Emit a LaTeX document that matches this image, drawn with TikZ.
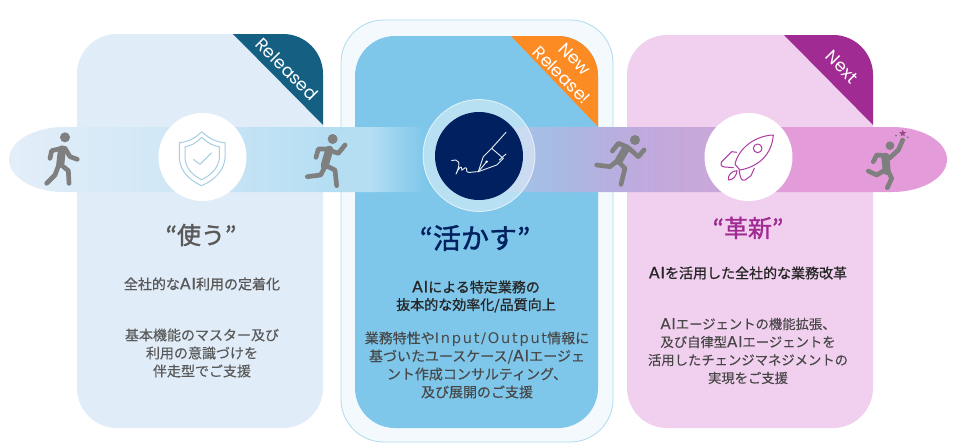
\documentclass[tikz,border=0pt]{standalone}
\usepackage{fontspec}
\setmainfont{Noto Sans CJK JP}
\newfontfamily\ribbonfont{Poppins}
\newfontfamily\jpbody[FakeBold=0.15]{Noto Sans CJK JP}
\newfontfamily\jpmed[FakeBold=0.9]{Noto Sans CJK JP}
\newfontfamily\jphead[FakeBold=1.4]{Noto Sans CJK JP}
\newfontfamily\latw[LetterSpace=12,Scale=1.04]{DejaVu Sans}
\newfontfamily\lata[LetterSpace=5,Scale=1.12,FakeBold=0.15]{DejaVu Sans}
\newfontfamily\latm[LetterSpace=5,Scale=1.12,FakeBold=0.7]{DejaVu Sans}
\newcommand{\wideL}[1]{{\latw #1}}
\newcommand{\wideA}[1]{{\lata #1}}
\newcommand{\wideM}[1]{{\latm #1}}
\usetikzlibrary{shapes.geometric}
\definecolor{panelA}{HTML}{E0ECF8}
\definecolor{panelBo}{HTML}{F3F9FD}
\definecolor{panelBe}{HTML}{AEDBF0}
\definecolor{panelB}{HTML}{7FC7EA}
\definecolor{panelC}{HTML}{F1D0EF}
\definecolor{ribA}{HTML}{156082}
\definecolor{ribB}{HTML}{FD8B23}
\definecolor{ribC}{HTML}{A02B93}
\definecolor{grayfig}{HTML}{7F7F7F}
\definecolor{txtA}{HTML}{595959}
\definecolor{txtB}{HTML}{002060}
\definecolor{txtD}{HTML}{262626}
\definecolor{shieldc}{HTML}{A6CEE2}
\definecolor{rocketc}{HTML}{AC3BA2}
\definecolor{navy}{HTML}{002060}
\definecolor{gA}{HTML}{E3EEF9}
\definecolor{gB}{HTML}{D0E7F6}
\definecolor{gC}{HTML}{B5DEF3}
\definecolor{gD}{HTML}{7FC7EA}
\definecolor{gE}{HTML}{A5BFE6}
\definecolor{gF}{HTML}{A9B9E2}
\definecolor{gG}{HTML}{BFAADE}
\definecolor{gH}{HTML}{CBA7D9}
\definecolor{gI}{HTML}{E39CD9}
\pgfdeclarehorizontalshading{bandshade}{100bp}{
 color(0bp)=(gA); color(25bp)=(gA); color(33.6bp)=(gB); color(42.1bp)=(gC); color(44.2bp)=(gC); color(47.1bp)=(gD);
 color(50bp)=(gD); color(52.8bp)=(gE); color(54.4bp)=(gF); color(58.6bp)=(gG); color(62.9bp)=(gH); color(66.6bp)=(gI); color(75bp)=(gI); color(100bp)=(gI)}
\tikzset{
 limb/.style={draw=grayfig,line width=3.5pt,line cap=round,line join=round},
 torso/.style={draw=grayfig,line width=6pt,line cap=round},
 headdot/.style={fill=grayfig},
 ribtext/.style={text=white,rotate=-45,font=\ribbonfont\fontsize{13}{15}\selectfont,inner sep=0pt},
 title/.style={inner sep=0pt,font=\jphead\fontsize{18}{22}\selectfont},
 sub/.style={inner sep=0pt,align=center,font=\jpmed\fontsize{10.5}{13.2}\selectfont},
 body/.style={inner sep=0pt,align=center,font=\jpbody\fontsize{10.5}{13.5}\selectfont},
 hub/.style={circle,fill=white,minimum size=66pt,inner sep=0pt},
}
\begin{document}
\begin{tikzpicture}[x=.75pt,y=-.75pt]
\useasboundingbox (0,0) rectangle (964,447);
\fill[white] (0,0) rectangle (964,447);
% panels
\fill[panelA,rounded corners=30pt] (77,34) rectangle (323,428);
\filldraw[fill=panelBo,draw=panelBe,line width=.6pt,rounded corners=32pt] (341,20) rectangle (613,442);
\fill[panelB,rounded corners=30pt] (355,36) rectangle (598,428);
\fill[panelC,rounded corners=30pt] (627,35) rectangle (873,428);
% ribbons
\begin{scope}
\clip[rounded corners=30pt] (77,34) rectangle (323,428);
\fill[ribA] (233,34) -- (330,34) -- (330,132) -- cycle;
\end{scope}
\begin{scope}
\clip[rounded corners=30pt] (355,36) rectangle (598,428);
\fill[ribB] (510,35) -- (605,35) -- (605,134) -- cycle;
\end{scope}
\begin{scope}
\clip[rounded corners=30pt] (627,35) rectangle (873,428);
\fill[ribC] (784,35) -- (880,35) -- (880,132) -- cycle;
\end{scope}
\node[ribtext] (relA) at (287,69) {Released};
\node[ribtext] (relB1) at (575,59) {New};
\node[ribtext] (relB2) at (562,75) {Release!};
\node[ribtext] (relC) at (842,67) {Next};
% band
\shade[shading=bandshade] (64,127) -- (892,127) arc[start angle=-90,end angle=90,x radius=55,y radius=32.5] -- (64,192) arc[start angle=90,end angle=270,x radius=55,y radius=32.5] -- cycle;
% hubs
\node[hub] (hubA) at (202.5,157) {};
\node[circle,fill=white,fill opacity=.45,draw=white,draw opacity=.7,line width=.6pt,minimum size=84pt,inner sep=0pt] (ringB) at (479,155.5) {};
\node[hub,fill=navy] (hubB) at (479,156) {};
\node[hub] (hubC) at (748.5,157) {};
% shield
\begin{scope}[shift={(0,20)},x=.25pt,y=-.25pt,draw=shieldc,line width=.75pt,line join=round]
\draw (605,335) .. controls (630,358) and (650,366) .. (675,368) -- (675,415) .. controls (672,450) and (645,480) .. (605,497) .. controls (565,480) and (540,450) .. (538,415) -- (538,368) .. controls (562,366) and (582,358) .. (605,335) -- cycle;
\draw (605,352) .. controls (625,370) and (640,378) .. (658,380) -- (658,415) .. controls (655,442) and (635,465) .. (605,479) .. controls (575,465) and (557,442) .. (555,415) -- (555,380) .. controls (572,378) and (587,370) .. (605,352) -- cycle;
\draw (580,418) -- (600,433) -- (635,398);
\end{scope}
% pen
\begin{scope}[shift={(420,100)},x=.25pt,y=-.25pt,draw=white!90!navy,line width=.7pt,line join=round,line cap=round]
\draw (95,182) .. controls (115,176) and (125,185) .. (108,222) .. controls (115,205) and (125,195) .. (125,205) .. controls (122,222) and (135,195) .. (140,205) .. controls (138,225) and (150,215) .. (175,215);
\draw (175,215) -- (190,170) -- (215,145) -- (250,175) -- (230,195) -- cycle;
\draw (175,215) -- (200,185);
\fill[white] (200,185) circle[radius=4];
\draw (215,145) -- (258,97);
\draw (238,180) -- (258,162);
\end{scope}
% rocket
\begin{scope}[shift={(715,125)},x=.25pt,y=-.25pt,draw=rocketc,line width=.75pt,line join=round,line cap=round]
\draw (175,30) .. controls (120,32) and (70,70) .. (60,118) -- (75,135) .. controls (130,125) and (170,90) .. (175,30) -- cycle;
\draw (128,70) circle[radius=13];
\draw (65,82) -- (50,80) -- (20,110) .. controls (15,120) and (20,126) .. (30,126) -- (55,128);
\draw (118,130) -- (108,152) -- (90,165) .. controls (80,168) and (77,160) .. (75,150) -- (72,135);
\draw (66,137) .. controls (50,138) and (38,150) .. (40,165) .. controls (55,165) and (65,152) .. (66,137) -- cycle;
\end{scope}
% walker
\begin{scope}[shift={(0,20)},x=.25pt,y=-.25pt]
\fill[headdot] (195,352) circle[radius=15];
\draw[limb] (185,385) -- (155,392) -- (150,415);
\draw[limb] (195,385) -- (210,410) -- (232,418);
\draw[limb] (178,430) -- (165,465) -- (140,490);
\draw[limb] (190,440) -- (205,452) -- (207,490);
\draw[torso] (186,388) -- (181,432);
\end{scope}
% runner 2
\begin{scope}[shift={(300,125)},x=.25pt,y=-.25pt]
\fill[headdot] (98,42) circle[radius=15];
\draw[limb] (82,72) -- (55,72) -- (48,97);
\draw[limb] (95,78) -- (115,85) -- (135,60);
\draw[limb] (75,125) -- (62,150) -- (22,155);
\draw[limb] (78,122) -- (105,135) -- (110,182);
\draw[torso] (88,74) -- (74,122);
\end{scope}
% runner 3
\begin{scope}[shift={(590,125)},x=.25pt,y=-.25pt]
\fill[headdot] (135,45) circle[radius=15];
\draw[limb] (110,65) -- (85,55) -- (67,78);
\draw[limb] (115,68) -- (145,95) -- (162,75);
\draw[limb] (85,105) -- (60,125) -- (20,120);
\draw[limb] (85,110) -- (105,130) -- (93,178);
\draw[torso] (108,70) -- (86,108);
\end{scope}
% jumper
\begin{scope}[shift={(860,125)},x=.25pt,y=-.25pt]
\fill[headdot] (90,62) circle[radius=13];
\draw[limb] (80,92) -- (50,90) -- (40,110);
\draw[limb] (88,100) -- (115,75) -- (128,45);
\draw[limb] (75,135) -- (50,150) -- (25,138);
\draw[limb] (85,140) -- (95,160) -- (82,188);
\draw[torso] (76,95) -- (80,138);
\node[star,star points=5,star point ratio=2.2,fill=ribC!60!grayfig,minimum size=5.5pt,inner sep=0pt] (starJ) at (128,25) {};
\fill[grayfig!70!ribC] (108,32) circle[radius=3];
\fill[grayfig!70!ribC] (143,37) circle[radius=3];
\end{scope}
% texts
\node[title,text=txtA] (tA) at (201,235) {“使う”};
\node[title,text=txtB,font=\jphead\fontsize{21}{24}\selectfont] (tB) at (475,238) {“活かす”};
\node[title,text=ribC] (tC) at (748,228) {“革新”};
\node[sub,text=txtA] (sA) at (202,284) {全社的な\wideM{AI}利用の定着化};
\node[sub,text=txtD] (sB) at (476,296.5) {\wideM{AI}による特定業務の\\抜本的な効率化/品質向上};
\node[sub,text=txtD] (sC) at (748,273) {\wideM{AI}を活用した全社的な業務改革};
\node[body,text=txtA] (bA) at (202,353) {基本機能のマスター及び\\利用の意識づけを\\伴走型でご支援};
\node[body,text=txtD!85!white] (bB) at (477,365) {業務特性や\wideL{Input/Output}情報に\\基づいたユースケース/\wideA{AI}エージェ\\ント作成コンサルティング、\\及び展開のご支援};
\node[body,text=txtD!85!white,font=\jpbody\fontsize{10}{13.5}\selectfont] (bC) at (748,351) {\wideA{AI}エージェントの機能拡張、\\及び自律型\wideA{AI}エージェントを\\活用したチェンジマネジメントの\\実現をご支援};
\end{tikzpicture}
\end{document}
